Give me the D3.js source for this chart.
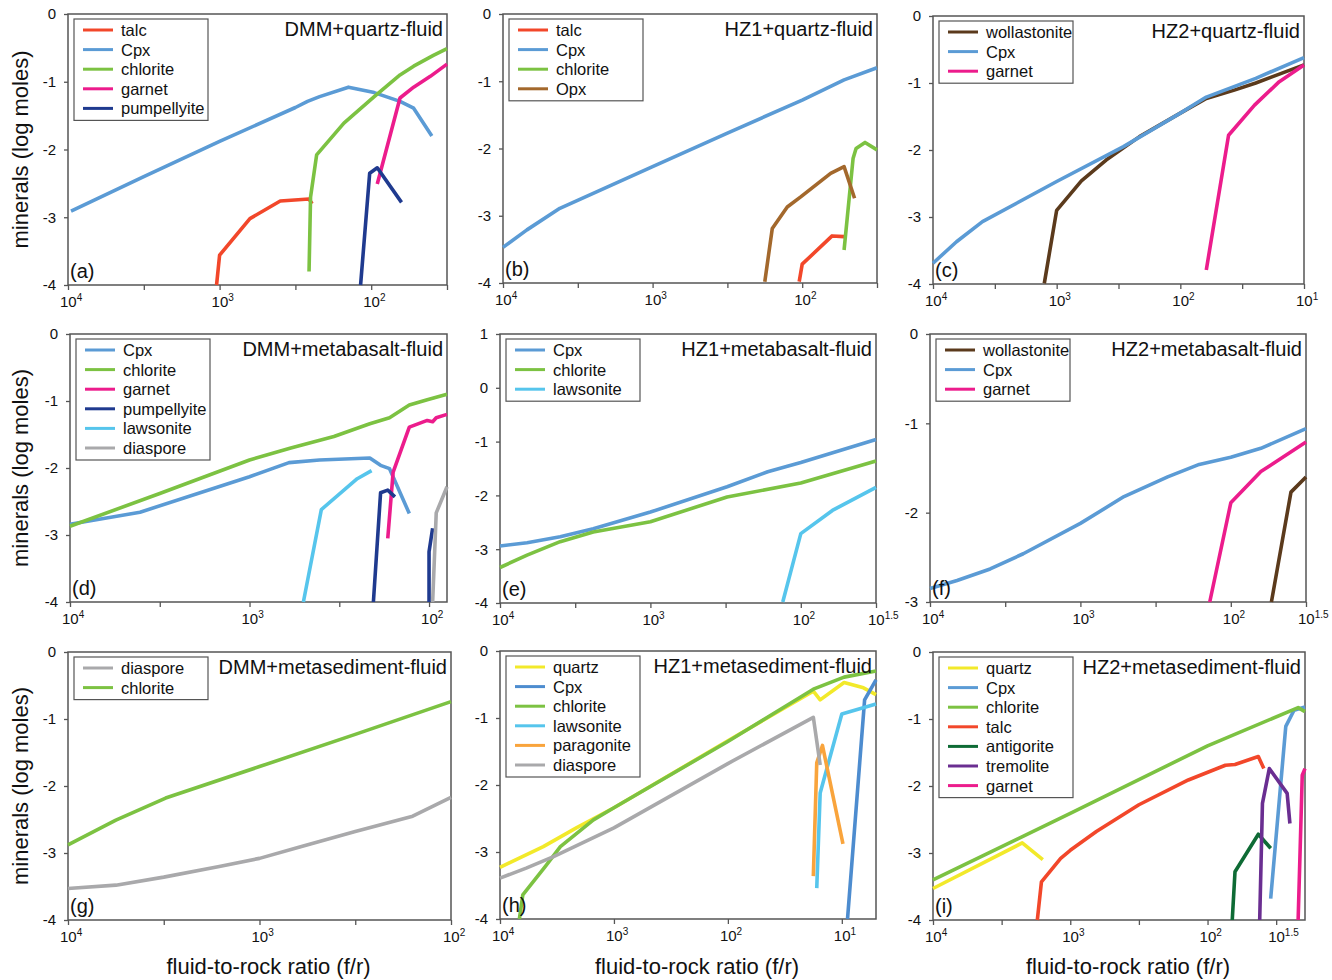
<!DOCTYPE html>
<html>
<head>
<meta charset="utf-8">
<script src="https://cdn.jsdelivr.net/npm/d3@7"></script>
<style>
  body { margin: 0; background: #fff; }
  text { font-family: Arial, "Liberation Sans", sans-serif; fill: #111; }
</style>
</head>
<body>
<div id="container"></div>
<script>
/* DATA: [log10 of f/r, log moles] */
// (a) DMM+quartz-fluid
const a_talc = [[3.02,-4.0],[3.0,-3.56],[2.8,-3.02],[2.6,-2.76],[2.41,-2.73],[2.39,-2.8]];
const a_cpx = [[3.98,-2.91],[3.5,-2.4],[3.0,-1.88],[2.5,-1.38],[2.42,-1.29],[2.34,-1.22],[2.15,-1.08],[1.98,-1.16],[1.81,-1.29],[1.72,-1.39],[1.6,-1.8]];
const a_chlorite = [[2.41,-3.8],[2.4,-2.7],[2.36,-2.08],[2.18,-1.61],[1.98,-1.22],[1.81,-0.9],[1.72,-0.77],[1.59,-0.61],[1.5,-0.51]];
const a_garnet = [[1.96,-2.51],[1.81,-1.24],[1.72,-1.08],[1.61,-0.92],[1.5,-0.74]];
const a_pumpellyite = [[2.07,-4.0],[2.01,-2.35],[1.96,-2.27],[1.8,-2.78]];
// (b) HZ1+quartz-fluid
const b_talc = [[2.02,-3.98],[2.0,-3.72],[1.8,-3.3],[1.72,-3.31]];
const b_cpx = [[4.0,-3.47],[3.84,-3.21],[3.62,-2.89],[3.0,-2.27],[2.5,-1.77],[2.0,-1.28],[1.72,-0.98],[1.5,-0.8]];
const b_chlorite = [[1.72,-3.51],[1.66,-2.15],[1.64,-2.0],[1.58,-1.91],[1.5,-2.02]];
const b_opx = [[2.25,-3.98],[2.2,-3.19],[2.1,-2.87],[2.01,-2.72],[1.81,-2.37],[1.72,-2.27],[1.65,-2.74]];
// (c) HZ2+quartz-fluid
const c_wollastonite = [[3.1,-3.99],[3.0,-2.9],[2.8,-2.46],[2.6,-2.15],[2.33,-1.8],[2.0,-1.45],[1.79,-1.23],[1.57,-1.11],[1.39,-1.0],[1.0,-0.73]];
const c_cpx = [[4.0,-3.69],[3.81,-3.37],[3.6,-3.07],[3.0,-2.47],[2.46,-1.95],[2.0,-1.45],[1.79,-1.21],[1.39,-0.93],[1.0,-0.62]];
const c_garnet = [[1.79,-3.79],[1.61,-1.78],[1.4,-1.33],[1.2,-0.98],[1.0,-0.73]];
// (d) DMM+metabasalt-fluid
const d_cpx = [[4.0,-2.84],[3.61,-2.66],[3.0,-2.13],[2.78,-1.92],[2.61,-1.88],[2.33,-1.85],[2.27,-1.96],[2.22,-2.01],[2.11,-2.68]];
const d_chlorite = [[4.0,-2.87],[3.5,-2.38],[3.0,-1.88],[2.77,-1.7],[2.53,-1.53],[2.33,-1.34],[2.22,-1.25],[2.11,-1.06],[2.01,-0.98],[1.9,-0.9]];
const d_garnet = [[2.23,-3.05],[2.2,-2.06],[2.11,-1.39],[2.01,-1.29],[1.98,-1.31],[1.96,-1.25],[1.9,-1.2]];
const d_pumpellyite = [[2.31,-4.0],[2.27,-2.37],[2.23,-2.33],[2.19,-2.43],null,[2.0,-4.0],[2.0,-3.25],[1.98,-2.9]];
const d_lawsonite = [[2.7,-4.0],[2.6,-2.62],[2.4,-2.16],[2.32,-2.04]];
const d_diaspore = [[1.98,-4.0],[1.96,-2.67],[1.9,-2.28]];
// (e) HZ1+metabasalt-fluid
const e_cpx = [[4.0,-2.94],[3.82,-2.88],[3.6,-2.77],[3.38,-2.62],[3.0,-2.31],[2.49,-1.84],[2.22,-1.56],[2.0,-1.39],[1.5,-0.96]];
const e_chlorite = [[4.0,-3.34],[3.82,-3.11],[3.6,-2.86],[3.38,-2.68],[3.0,-2.49],[2.49,-2.03],[2.0,-1.77],[1.5,-1.36]];
const e_lawsonite = [[2.12,-3.98],[2.0,-2.71],[1.79,-2.28],[1.5,-1.85]];
// (f) HZ2+metabasalt-fluid
const f_wollastonite = [[1.73,-3.0],[1.6,-1.77],[1.5,-1.6]];
const f_cpx = [[4.0,-2.85],[3.82,-2.76],[3.6,-2.63],[3.38,-2.46],[3.0,-2.12],[2.71,-1.82],[2.42,-1.6],[2.21,-1.46],[2.0,-1.38],[1.8,-1.28],[1.5,-1.06]];
const f_garnet = [[2.14,-3.0],[2.0,-1.89],[1.8,-1.54],[1.5,-1.21]];
// (g) DMM+metasediment-fluid
const g_diaspore = [[4.0,-3.53],[3.75,-3.48],[3.5,-3.36],[3.21,-3.2],[3.0,-3.08],[2.79,-2.91],[2.5,-2.68],[2.2,-2.45],[2.0,-2.17]];
const g_chlorite = [[4.0,-2.88],[3.75,-2.51],[3.49,-2.18],[3.0,-1.71],[2.5,-1.23],[2.0,-0.74]];
// (h) HZ1+metasediment-fluid
const h_quartz = [[4.0,-3.23],[3.62,-2.92],[3.33,-2.64],[3.0,-2.34],[2.0,-1.34],[1.25,-0.6],[1.19,-0.73],[0.98,-0.47],[0.81,-0.55],[0.7,-0.65]];
const h_cpx = [[0.95,-4.0],[0.8,-0.73],[0.7,-0.43]];
const h_chlorite = [[3.83,-4.0],[3.8,-3.64],[3.6,-3.21],[3.47,-2.92],[3.18,-2.52],[3.0,-2.34],[2.0,-1.35],[1.25,-0.57],[0.98,-0.39],[0.7,-0.3]];
const h_lawsonite = [[1.22,-3.54],[1.19,-2.12],[1.0,-0.94],[0.7,-0.79]];
const h_paragonite = [[1.25,-3.36],[1.22,-1.67],[1.17,-1.41],[0.99,-2.88]];
const h_diaspore = [[4.0,-3.39],[3.77,-3.24],[3.53,-3.07],[3.0,-2.64],[2.0,-1.68],[1.25,-0.99],[1.19,-1.7]];
// (i) HZ2+metasediment-fluid
const i_quartz = [[4.0,-3.53],[3.35,-2.85],[3.2,-3.1]];
const i_cpx = [[1.54,-3.68],[1.43,-1.11],[1.37,-0.87],[1.29,-0.82]];
const i_chlorite = [[4.0,-3.4],[3.0,-2.41],[2.0,-1.4],[1.34,-0.83],[1.29,-0.89]];
const i_talc = [[3.24,-4.0],[3.21,-3.43],[3.07,-3.08],[3.0,-2.96],[2.81,-2.68],[2.5,-2.28],[2.14,-1.91],[1.87,-1.69],[1.8,-1.68],[1.63,-1.56],[1.59,-1.74]];
const i_antigorite = [[1.82,-4.0],[1.8,-3.28],[1.63,-2.72],[1.54,-2.93]];
const i_tremolite = [[1.62,-4.0],[1.6,-2.26],[1.55,-1.74],[1.42,-2.11],[1.4,-2.56]];
const i_garnet = [[1.34,-4.0],[1.31,-1.84],[1.29,-1.74]];

const colors = {
  talc: "#f2472a", Cpx: "#5b9bd5", chlorite: "#7cc242", garnet: "#ec1c8c",
  pumpellyite: "#1f3a8f", Opx: "#a3682c", wollastonite: "#5b3a1c",
  lawsonite: "#56c5ec", diaspore: "#a9a9ab", quartz: "#f2e92a",
  paragonite: "#f9a43c", antigorite: "#0e6b35", tremolite: "#6a2e91"
};

/* PANELS: box = [left, top, right, bottom] in px */
const panels = [
  {tag: "(a)", title: "DMM+quartz-fluid", box: [68, 14, 447, 285], xEnd: 1.5, yMax: 0, yMin: -4,
   xLabels: [4, 3, 2], minor: true,
   series: [["talc", a_talc], ["Cpx", a_cpx], ["chlorite", a_chlorite], ["garnet", a_garnet], ["pumpellyite", a_pumpellyite]]},
  {tag: "(b)", title: "HZ1+quartz-fluid", box: [503, 14, 877, 283], xEnd: 1.5, yMax: 0, yMin: -4,
   xLabels: [4, 3, 2], minor: true,
   series: [["talc", b_talc], ["Cpx", b_cpx], ["chlorite", b_chlorite], ["Opx", b_opx]]},
  {tag: "(c)", title: "HZ2+quartz-fluid", box: [933, 16, 1304, 284], xEnd: 1, yMax: 0, yMin: -4,
   xLabels: [4, 3, 2, 1], minor: true,
   series: [["wollastonite", c_wollastonite], ["Cpx", c_cpx], ["garnet", c_garnet]]},
  {tag: "(d)", title: "DMM+metabasalt-fluid", box: [70, 334, 447, 602], xEnd: 1.9, yMax: 0, yMin: -4,
   xLabels: [4, 3, 2], minor: true,
   series: [["Cpx", d_cpx], ["chlorite", d_chlorite], ["garnet", d_garnet], ["pumpellyite", d_pumpellyite], ["lawsonite", d_lawsonite], ["diaspore", d_diaspore]]},
  {tag: "(e)", title: "HZ1+metabasalt-fluid", box: [500, 334, 876, 603], xEnd: 1.5, yMax: 1, yMin: -4,
   xLabels: [4, 3, 2, 1.5], minor: true,
   series: [["Cpx", e_cpx], ["chlorite", e_chlorite], ["lawsonite", e_lawsonite]]},
  {tag: "(f)", title: "HZ2+metabasalt-fluid", box: [930, 334, 1306, 602], xEnd: 1.5, yMax: 0, yMin: -3,
   xLabels: [4, 3, 2, 1.5], minor: true,
   series: [["wollastonite", f_wollastonite], ["Cpx", f_cpx], ["garnet", f_garnet]]},
  {tag: "(g)", title: "DMM+metasediment-fluid", box: [68, 652, 451, 920], xEnd: 2, yMax: 0, yMin: -4,
   xLabels: [4, 3, 2], minor: true,
   series: [["diaspore", g_diaspore], ["chlorite", g_chlorite]]},
  {tag: "(h)", title: "HZ1+metasediment-fluid", box: [500, 651, 876, 919], xEnd: 0.7, yMax: 0, yMin: -4,
   xLabels: [4, 3, 2, 1], minor: false, cpxColor: "#4d8ccf",
   series: [["quartz", h_quartz], ["Cpx", h_cpx], ["chlorite", h_chlorite], ["lawsonite", h_lawsonite], ["paragonite", h_paragonite], ["diaspore", h_diaspore]]},
  {tag: "(i)", title: "HZ2+metasediment-fluid", box: [933, 652, 1305, 920], xEnd: 1.29, yMax: 0, yMin: -4,
   xLabels: [4, 3, 2, 1.5], minor: true,
   series: [["quartz", i_quartz], ["Cpx", i_cpx], ["chlorite", i_chlorite], ["talc", i_talc], ["antigorite", i_antigorite], ["tremolite", i_tremolite], ["garnet", i_garnet]]}
];

const W = 1332, H = 980;
const svg = d3.select("#container").append("svg")
  .attr("width", W).attr("height", H)
  .style("background-color", "#ffffff");

const frameColor = "#555";

panels.forEach((p, idx) => {
  const [x0, y0, x1, y1] = p.box;
  const x = d3.scaleLinear().domain([4, p.xEnd]).range([x0, x1]);
  const y = d3.scaleLinear().domain([p.yMax, p.yMin]).range([y0, y1]);
  const g = svg.append("g");
  const colorOf = name => (name === "Cpx" && p.cpxColor) ? p.cpxColor : colors[name];

  // x axis, ticks every half decade (or per decade)
  let tv = [];
  for (let e = 4; e >= p.xEnd - 1e-9; e -= (p.minor ? 0.5 : 1)) tv.push(+e.toFixed(2));
  p.xLabels.forEach(l => { if (!tv.includes(l)) tv.push(l); });
  const xAxis = g.append("g")
    .attr("transform", `translate(0,${y1})`)
    .call(d3.axisBottom(x).tickValues(tv).tickSize(5).tickFormat(""));
  xAxis.select(".domain").remove();
  xAxis.selectAll(".tick line").attr("stroke", frameColor).attr("stroke-width", 1.3);
  xAxis.selectAll(".tick").filter(d => p.xLabels.includes(d))
    .append("text")
    .attr("x", -8.5).attr("y", 22)
    .attr("text-anchor", "start")
    .style("font-size", "15px")
    .style("fill", "#111")
    .call(t => {
      t.append("tspan").text("10");
      t.append("tspan").attr("dy", -6).style("font-size", "10px").text(d => String(d));
    });

  // y axis
  const yt = d3.range(p.yMax, p.yMin - 0.5, -1);
  const yAxis = g.append("g")
    .attr("transform", `translate(${x0},0)`)
    .call(d3.axisLeft(y).tickValues(yt).tickSize(4).tickPadding(8).tickFormat(d => String(d)));
  yAxis.select(".domain").remove();
  yAxis.selectAll(".tick line").attr("stroke", frameColor).attr("stroke-width", 1.3);
  yAxis.selectAll(".tick text")
    .style("font-size", "15px")
    .style("font-family", "Arial, 'Liberation Sans', sans-serif")
    .style("fill", "#111");

  // frame
  g.append("rect")
    .attr("x", x0).attr("y", y0)
    .attr("width", x1 - x0).attr("height", y1 - y0)
    .attr("fill", "none").attr("stroke", frameColor).attr("stroke-width", 1.5);

  // curves
  const line = d3.line()
    .defined(d => d != null)
    .x(d => x(d[0]))
    .y(d => y(d[1]));
  g.selectAll("path.curve")
    .data(p.series)
    .join("path")
    .attr("class", "curve")
    .attr("d", d => line(d[1]))
    .attr("fill", "none")
    .attr("stroke", d => colorOf(d[0]))
    .attr("stroke-width", 3.6)
    .attr("stroke-linejoin", "round");

  // title
  g.append("text")
    .attr("x", x1 - 4).attr("y", y0 + 22)
    .attr("text-anchor", "end")
    .style("font-size", "20px")
    .text(p.title);

  // panel tag
  g.append("text")
    .attr("x", x0 + 2).attr("y", y1 - 7)
    .style("font-size", "20px")
    .text(p.tag);

  // legend
  const n = p.series.length;
  const lx = x0 + 6, ly = y0 + 5, rowH = 19.6;
  const leg = g.append("g").attr("transform", `translate(${lx},${ly})`);
  leg.append("rect")
    .attr("width", 134).attr("height", 11 + (n - 1) * rowH + 12)
    .attr("fill", "#fff").attr("stroke", "#555").attr("stroke-width", 1.2);
  const row = leg.selectAll("g.row")
    .data(p.series)
    .join("g")
    .attr("class", "row")
    .attr("transform", (d, i) => `translate(0,${11 + i * rowH})`);
  row.append("line")
    .attr("x1", 9).attr("x2", 39)
    .attr("stroke", d => colorOf(d[0]))
    .attr("stroke-width", 3);
  row.append("text")
    .attr("x", 47).attr("dy", "0.36em")
    .style("font-size", "16.5px")
    .text(d => d[0]);

  // axis titles
  if (idx % 3 === 0) {
    svg.append("text")
      .attr("transform", `translate(28,${(y0 + y1) / 2}) rotate(-90)`)
      .attr("text-anchor", "middle")
      .style("font-size", "22px")
      .text("minerals (log moles)");
  }
  if (idx >= 6) {
    svg.append("text")
      .attr("x", (x0 + x1) / 2 + 9).attr("y", 974)
      .attr("text-anchor", "middle")
      .style("font-size", "22px")
      .text("fluid-to-rock ratio (f/r)");
  }
});
</script>
</body>
</html>
